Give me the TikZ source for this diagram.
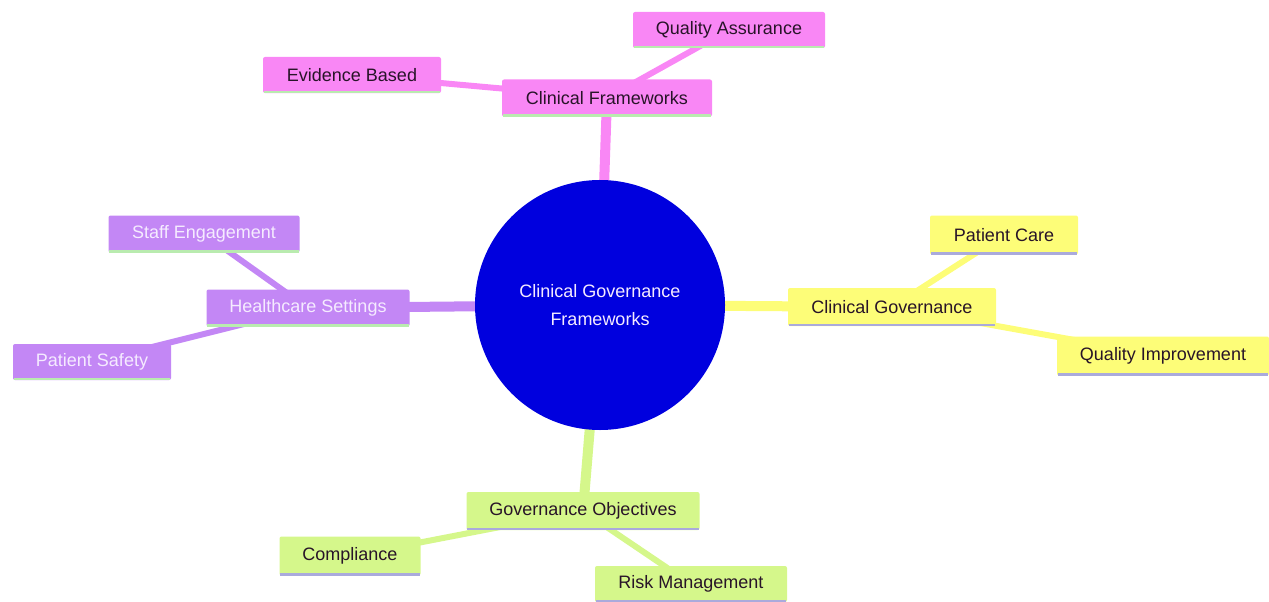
\documentclass[tikz,border=0pt]{standalone}
\usepackage{fontspec}
\setmainfont{Liberation Sans}
\usetikzlibrary{backgrounds}
\definecolor{cpink}{RGB}{249,135,245}
\definecolor{cpurple}{RGB}{195,135,245}
\definecolor{cyellow}{RGB}{253,253,120}
\definecolor{cgreen}{RGB}{213,247,139}
\definecolor{cblue}{RGB}{0,0,222}
\definecolor{linegreen}{RGB}{185,235,175}
\definecolor{linelav}{RGB}{170,170,220}
\definecolor{darktxt}{RGB}{40,20,40}
\definecolor{lighttxt}{RGB}{245,235,255}
\tikzset{
  x=1pt, y=-1pt,
  box/.style={rectangle, rounded corners=2pt, inner sep=0pt, font=\fontsize{18}{21}\selectfont, align=center},
  pinkbox/.style={box, fill=cpink, text=darktxt},
  purplebox/.style={box, fill=cpurple, text=lighttxt},
  yellowbox/.style={box, fill=cyellow, text=darktxt},
  greenbox/.style={box, fill=cgreen, text=darktxt},
  thickedge/.style={line width=10pt},
  thinedge/.style={line width=6pt},
}
\begin{document}
\begin{tikzpicture}
\useasboundingbox (0,0) rectangle (1269,602);
% central
\node[circle, fill=cblue, minimum size=250pt, inner sep=0pt, text=lighttxt, align=center, font=\fontsize{18}{28}\selectfont] (c) at (600,305) {Clinical Governance\\Frameworks};
% main nodes
\node[pinkbox, minimum width=210pt, minimum height=37pt] (cf) at (607,98) {Clinical Frameworks};
\node[pinkbox, minimum width=192pt, minimum height=36pt] (qa) at (729,30) {Quality Assurance};
\node[pinkbox, minimum width=178pt, minimum height=36pt] (eb) at (352,75) {Evidence Based};
\node[purplebox, minimum width=203pt, minimum height=37pt] (hs) at (308,308) {Healthcare Settings};
\node[purplebox, minimum width=191pt, minimum height=37pt] (se) at (204,234) {Staff Engagement};
\node[purplebox, minimum width=158pt, minimum height=36pt] (ps) at (92,362) {Patient Safety};
\node[yellowbox, minimum width=208pt, minimum height=38pt] (cg) at (892,307) {Clinical Governance};
\node[yellowbox, minimum width=148pt, minimum height=39pt] (pc) at (1004,235) {Patient Care};
\node[yellowbox, minimum width=212pt, minimum height=39pt] (qi) at (1163,356) {Quality Improvement};
\node[greenbox, minimum width=233pt, minimum height=38pt] (go) at (583,511) {Governance Objectives};
\node[greenbox, minimum width=141pt, minimum height=39pt] (co) at (350,556) {Compliance};
\node[greenbox, minimum width=192pt, minimum height=36pt] (rm) at (691,584) {Risk Management};
% bottom lines
\foreach \n/\c in {cf/linegreen,qa/linegreen,eb/linegreen,hs/linegreen,se/linegreen,ps/linegreen,cg/linelav,pc/linelav,qi/linelav,go/linelav,co/linelav,rm/linelav}{
  \draw[\c, line width=2.5pt] ([xshift=1pt,yshift=1.25pt]\n.south west) -- ([xshift=-1pt,yshift=1.25pt]\n.south east);
}
\begin{scope}[on background layer]
\draw[cpink, thickedge] (c.center) -- (cf.center);
\draw[cpink, thinedge] (cf.center) -- (qa.center);
\draw[cpink, thinedge] (cf.center) -- (eb.center);
\draw[cpurple, thickedge] (c.center) -- (hs.center);
\draw[cpurple, thinedge] (hs.center) -- (se.center);
\draw[cpurple, thinedge] (hs.center) -- (ps.center);
\draw[cyellow, thickedge] (c.center) -- (cg.center);
\draw[cyellow, thinedge] (cg.center) -- (pc.center);
\draw[cyellow, thinedge] (cg.center) -- (qi.center);
\draw[cgreen, thickedge] (c.center) -- (go.center);
\draw[cgreen, thinedge] (go.center) -- (co.center);
\draw[cgreen, thinedge] (go.center) -- (rm.center);
\end{scope}
\end{tikzpicture}
\end{document}
